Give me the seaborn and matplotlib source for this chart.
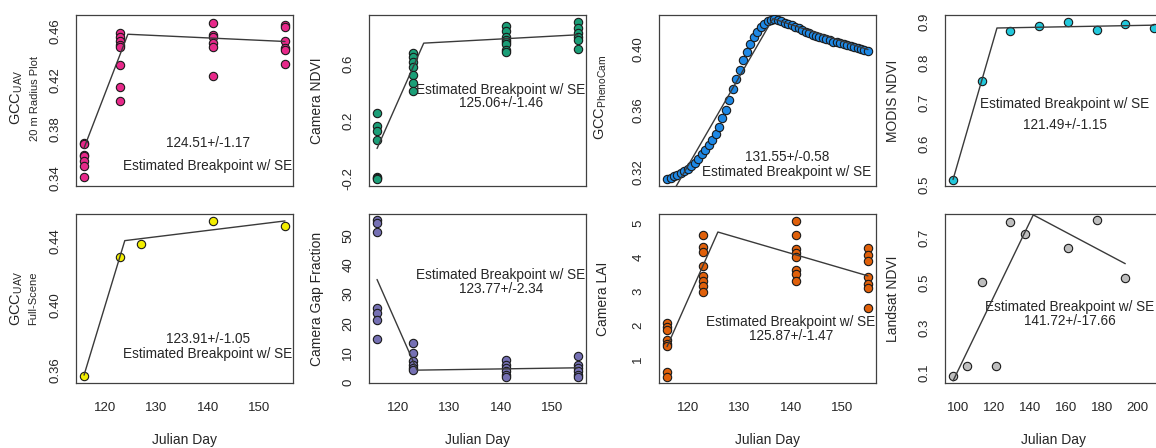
import numpy as np
import pandas as pd
import matplotlib
matplotlib.use("Agg")
import matplotlib.pyplot as plt
import seaborn as sns

# ---------------- data ----------------
# Panel 1: GCC UAV, 20 m radius plot
r20_days = [116, 123, 141, 155]
r20_vals = [[0.3684, 0.3676, 0.3589, 0.3581, 0.354, 0.350, 0.3405],
            [0.4586, 0.4549, 0.4514, 0.4486, 0.4473, 0.4324, 0.4141, 0.4032],
            [0.4668, 0.4568, 0.4549, 0.450, 0.4473, 0.4235],
            [0.4649, 0.463, 0.4514, 0.446, 0.4446, 0.4332]]
r20_fit_x = [116, 124.51, 155]
r20_fit_y = [0.3645, 0.4573, 0.4514]

# Panel 2: Camera NDVI
cndvi_days = [116, 123, 141, 155]
cndvi_vals = [[0.257, 0.164, 0.129, 0.068, -0.186, -0.193, -0.2],
              [0.67, 0.647, 0.607, 0.577, 0.518, 0.465, 0.406],
              [0.861, 0.822, 0.782, 0.763, 0.747, 0.733, 0.693, 0.682],
              [0.885, 0.845, 0.81, 0.782, 0.763, 0.698]]
cndvi_fit_x = [116, 125.06, 155]
cndvi_fit_y = [0.01, 0.74, 0.798]

# Panel 3: GCC PhenoCam (daily)
pheno_days = list(range(101, 160))
pheno_vals = [0.3156, 0.3163, 0.3172, 0.3182, 0.3193, 0.3206, 0.3222, 0.3240,
              0.3262, 0.3287, 0.3315, 0.3345, 0.3375, 0.3410, 0.3448, 0.3495,
              0.3550, 0.3605, 0.3670, 0.3740, 0.3805, 0.3865, 0.3925, 0.3980,
              0.4030, 0.4075, 0.4110, 0.4140, 0.4162, 0.4178, 0.4188, 0.4190,
              0.4186, 0.4178, 0.4170, 0.4162, 0.4154, 0.4143, 0.4133, 0.4122,
              0.4111, 0.4101, 0.4092, 0.4084, 0.4077, 0.4069, 0.4061, 0.4054,
              0.4047, 0.4041, 0.4036, 0.4031, 0.4027, 0.4020, 0.4014, 0.4006,
              0.3998, 0.3992, 0.3986]
pheno_fit_x = [101, 131.55, 159]
pheno_fit_y = [0.3006, 0.4195, 0.3995]

# Panel 4: MODIS NDVI
modis_days = [97, 113, 129, 145, 161, 177, 193, 209]
modis_vals = [0.5116, 0.7556, 0.8776, 0.890, 0.900, 0.879, 0.896, 0.884]
modis_fit_x = [97, 121.49, 209]
modis_fit_y = [0.512, 0.885, 0.892]

# Panel 5: GCC UAV full scene
full_days = [116, 123, 127, 141, 155]
full_vals = [0.3559, 0.4301, 0.4379, 0.4522, 0.4493]
full_fit_x = [116, 123.91, 155]
full_fit_y = [0.3567, 0.44, 0.4522]

# Panel 6: Camera gap fraction
gap_days = [116, 123, 141, 155]
gap_vals = [[55.2, 54.3, 51.3, 25.3, 23.6, 21.3, 14.5],
            [13.3, 9.9, 7.1, 5.7, 4.8, 4.0],
            [7.4, 5.9, 4.8, 3.6, 2.5, 1.7],
            [8.8, 5.9, 4.8, 3.6, 2.5, 1.7]]
gap_fit_x = [116, 123.77, 155]
gap_fit_y = [35.0, 4.0, 4.8]

# Panel 7: Camera LAI
lai_days = [116, 123, 141, 155]
lai_vals = [[2.06, 1.96, 1.86, 1.56, 1.46, 1.38, 0.62, 0.49],
            [4.65, 4.3, 4.15, 3.75, 3.45, 3.3, 3.16, 2.99],
            [5.07, 4.64, 4.25, 4.11, 4.01, 3.61, 3.51, 3.31],
            [4.26, 4.06, 3.88, 3.43, 3.21, 3.08, 2.51]]
lai_fit_x = [116, 125.87, 155]
lai_fit_y = [1.37, 4.74, 3.45]

# Panel 8: Landsat NDVI
landsat_days = [97, 105, 113, 121, 129, 137, 161, 177, 193]
landsat_vals = [0.085, 0.13, 0.504, 0.13, 0.77, 0.715, 0.655, 0.777, 0.519]
landsat_fit_x = [97, 141.72, 193]
landsat_fit_y = [0.065, 0.80, 0.584]

# ---------------- style ----------------
sns.set_style("white")
plt.rcParams["font.family"] = ["Liberation Sans", "DejaVu Sans"]
plt.rcParams["mathtext.fontset"] = "custom"
plt.rcParams["mathtext.rm"] = "Liberation Sans"
plt.rcParams["mathtext.it"] = "Liberation Sans"
plt.rcParams["mathtext.default"] = "regular"

W, H = 1156, 448
fig = plt.figure(figsize=(W / 100, H / 100), dpi=100)
fig.patch.set_facecolor("white")
TXT = "#262626"
AX = "#404040"


def add_ax(l, t, r, b):
    return fig.add_axes([l / W, 1 - b / H, (r - l) / W, (b - t) / H])


def long_df(days, vals):
    xs, ys = [], []
    for d, v in zip(days, vals):
        if isinstance(v, (list, tuple)):
            xs += [d] * len(v)
            ys += list(v)
        else:
            xs.append(d)
            ys.append(v)
    return pd.DataFrame({"day": xs, "value": ys})


def panel(box, days, vals, fx, fy, color, xlim, xticks, ylim, yticks, ylabs,
          texts, show_x):
    ax = add_ax(*box)
    df = long_df(days, vals)
    sns.scatterplot(data=df, x="day", y="value", ax=ax, color=color,
                    edgecolor="#1a1a1a", linewidth=0.8, s=36, zorder=3)
    fit = pd.DataFrame({"day": fx, "value": fy})
    sns.lineplot(data=fit, x="day", y="value", ax=ax, color="#3a3a3a",
                 linewidth=1.0, sort=False, estimator=None, zorder=4)
    ax.set_xlim(*xlim)
    ax.set_ylim(*ylim)
    ax.set_xticks(xticks)
    ax.set_yticks(yticks)
    ax.set_yticklabels(ylabs)
    ax.set_xlabel("")
    ax.set_ylabel("")
    for s in ax.spines.values():
        s.set_color(AX)
        s.set_linewidth(0.9)
    ax.tick_params(axis="both", direction="out", length=4.5, width=0.9,
                   color=AX, labelsize=9.5, labelcolor=TXT)
    ax.tick_params(axis="y", pad=6)
    ax.tick_params(axis="x", pad=9, labelbottom=show_x)
    for lab in ax.get_yticklabels():
        lab.set_rotation(90)
        lab.set_va("center")
    for (tx, ty, s) in texts:
        ax.text(tx, ty, s, ha="center", va="center", fontsize=9.8, color=TXT)
    return ax


COLS = [(76, 293), (369, 586), (659, 876), (945, 1162)]
ROW1 = (15, 186)
ROW2 = (214, 383)

def box(c, r):
    return (COLS[c][0], r[0], COLS[c][1], r[1])

EB = "Estimated Breakpoint w/ SE"
XL1 = (114.44, 156.56)
XT1 = [120, 130, 140, 150]

panel(box(0, ROW1), r20_days, r20_vals, r20_fit_x, r20_fit_y, "#E7298A",
      XL1, XT1, (0.3335, 0.473), [0.34, 0.36, 0.38, 0.40, 0.42, 0.44, 0.46],
      ["0.34", "", "0.38", "", "0.42", "", "0.46"],
      [(140, 0.3684, "124.51+/-1.17"), (140, 0.350, EB)], False)

panel(box(1, ROW1), cndvi_days, cndvi_vals, cndvi_fit_x, cndvi_fit_y, "#1B9E77",
      XL1, XT1, (-0.25, 0.935), [-0.2, 0.0, 0.2, 0.4, 0.6, 0.8],
      ["-0.2", "", "0.2", "", "0.6", ""],
      [(140, 0.418, EB), (140, 0.325, "125.06+/-1.46")], False)

panel(box(2, ROW1), pheno_days, pheno_vals, pheno_fit_x, pheno_fit_y, "#1E88E5",
      (98.68, 161.32), [100, 110, 120, 130, 140, 150, 160], (0.311, 0.4219),
      [0.32, 0.34, 0.36, 0.38, 0.40, 0.42],
      ["0.32", "", "0.36", "", "0.40", ""],
      [(135.6, 0.3299, "131.55+/-0.58"), (135.6, 0.3200, EB)], False)

panel(box(3, ROW1), modis_days, modis_vals, modis_fit_x, modis_fit_y, "#22C8DC",
      (92.52, 213.48), [100, 120, 140, 160, 180, 200], (0.496, 0.917),
      [0.5, 0.6, 0.7, 0.8, 0.9], ["0.5", "0.6", "0.7", "0.8", "0.9"],
      [(159.2, 0.6975, EB), (159.2, 0.645, "121.49+/-1.15")], False)

panel(box(0, ROW2), full_days, full_vals, full_fit_x, full_fit_y, "#F2EE00",
      XL1, XT1, (0.3518, 0.4565), [0.36, 0.38, 0.40, 0.42, 0.44],
      ["0.36", "", "0.40", "", "0.44"],
      [(140, 0.379, "123.91+/-1.05"), (140, 0.370, EB)], True)

panel(box(1, ROW2), gap_days, gap_vals, gap_fit_x, gap_fit_y, "#7570B3",
      XL1, XT1, (-0.4, 57.4), [0, 10, 20, 30, 40, 50],
      ["0", "10", "20", "30", "40", "50"],
      [(140, 36.7, EB), (140, 31.8, "123.77+/-2.34")], True)

panel(box(2, ROW2), lai_days, lai_vals, lai_fit_x, lai_fit_y, "#E0600A",
      XL1, XT1, (0.3, 5.27), [1, 2, 3, 4, 5], ["1", "2", "3", "4", "5"],
      [(140, 2.08, EB), (140, 1.68, "125.87+/-1.47")], True)

panel(box(3, ROW2), landsat_days, landsat_vals, landsat_fit_x, landsat_fit_y,
      "#BEBEBE", (92.52, 213.48), [100, 120, 140, 160, 180, 200],
      (0.0556, 0.804), [0.1, 0.2, 0.3, 0.4, 0.5, 0.6, 0.7],
      ["0.1", "", "0.3", "", "0.5", "", "0.7"],
      [(162, 0.392, EB), (162, 0.33, "141.72+/-17.66")], True)


def ftext(px, py, s, size, **kw):
    fig.text(px / W, 1 - py / H, s, fontsize=size, color=TXT, ha="center",
             va="center", **kw)

r1c = (ROW1[0] + ROW1[1]) / 2
r2c = (ROW2[0] + ROW2[1]) / 2
ftext(17, r1c - 3, r"GCC$_{UAV}$", 10.5, rotation=90)
ftext(35, r1c - 2, "20 m Radius Plot", 8, rotation=90)
ftext(317, r1c, "Camera NDVI", 10, rotation=90)
ftext(601, r1c - 3, r"GCC$_{PhenoCam}$", 10.5, rotation=90)
ftext(893, r1c, "MODIS NDVI", 10, rotation=90)
ftext(17, r2c, r"GCC$_{UAV}$", 10.5, rotation=90)
ftext(33, r2c, "Full-Scene", 8, rotation=90)
ftext(317, r2c, "Camera Gap Fraction", 10, rotation=90)
ftext(603, r2c, "Camera LAI", 10, rotation=90)
ftext(893, r2c, "Landsat NDVI", 10, rotation=90)
for c in range(4):
    ftext((COLS[c][0] + COLS[c][1]) / 2, 440, "Julian Day", 10)

fig.savefig("out.png", dpi=100, facecolor="white")
